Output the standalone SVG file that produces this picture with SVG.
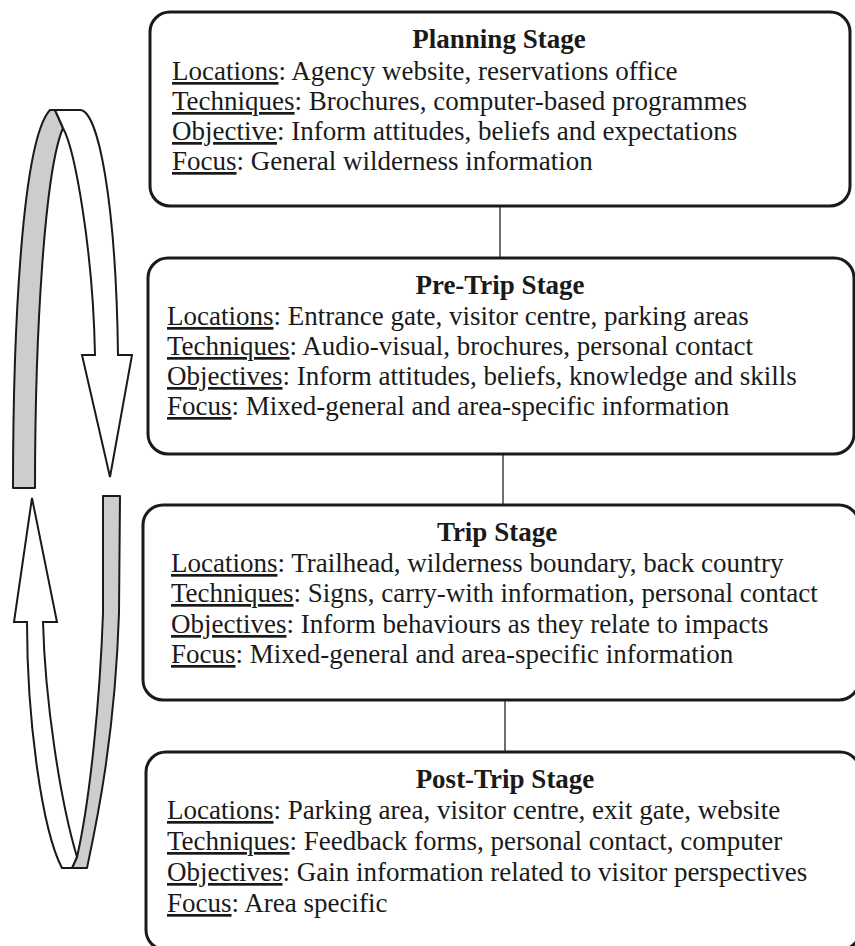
<svg xmlns="http://www.w3.org/2000/svg" width="855" height="946" viewBox="0 0 855 946">
<style>
.box{fill:#fff;stroke:#1a1a1a;stroke-width:3}
.t{font-family:"Liberation Serif","Times New Roman",serif;font-size:27px;fill:#1a1a1a}
.h{font-weight:bold;text-anchor:middle}
.u{text-decoration:underline}
.conn{stroke:#222;stroke-width:1.3;fill:none}
.band{fill:#cdcdcd;stroke:#1a1a1a;stroke-width:2;stroke-linejoin:round}
.arw{fill:#fff;stroke:#1a1a1a;stroke-width:2;stroke-linejoin:miter}
</style>
<rect width="855" height="946" fill="#fff"/>
<g id="cycle-arrows">
<path class="band" d="M13,488 C13,330 22,140 50,110 L55,110 L63,128 C45,170 35,330 35,488 Z"/>
<path class="arw" d="M55,110 L80,110 C98,110 116,200 118,355 L132,355 L110,477 L82,355 L95,355 C93,250 75,150 63,128 Z"/>
<path class="band" d="M103,496 L120,496 L119,613 C115,740 95,830 87,868 L72,868 L77,857 C90,800 100,700 103,613 Z"/>
<path class="arw" d="M62,868 L72,868 L77,857 C60,800 45,700 43,622 L57,622 L32,498 L14,622 L27,622 C27,720 42,830 62,868 Z"/>
</g>
<g id="connectors">
<line class="conn" x1="500" y1="206" x2="500" y2="258"/>
<line class="conn" x1="503" y1="454" x2="503" y2="505"/>
<line class="conn" x1="505" y1="700" x2="505" y2="752"/>
</g>
<g id="planning">
<rect class="box" x="150" y="12" width="700" height="194" rx="20"/>
<text class="t h" x="499" y="48">Planning Stage</text>
<text class="t" x="172" y="80"><tspan class="u">Locations</tspan>: Agency website, reservations office</text>
<text class="t" x="172" y="110"><tspan class="u">Techniques</tspan>: Brochures, computer-based programmes</text>
<text class="t" x="172" y="140"><tspan class="u">Objective</tspan>: Inform attitudes, beliefs and expectations</text>
<text class="t" x="172" y="170"><tspan class="u">Focus</tspan>: General wilderness information</text>
</g>
<g id="pretrip">
<rect class="box" x="148" y="258" width="706" height="196" rx="20"/>
<text class="t h" x="500" y="294">Pre-Trip Stage</text>
<text class="t" x="167" y="325"><tspan class="u">Locations</tspan>: Entrance gate, visitor centre, parking areas</text>
<text class="t" x="167" y="355"><tspan class="u">Techniques</tspan>: Audio-visual, brochures, personal contact</text>
<text class="t" x="167" y="385"><tspan class="u">Objectives</tspan>: Inform attitudes, beliefs, knowledge and skills</text>
<text class="t" x="167" y="415"><tspan class="u">Focus</tspan>: Mixed-general and area-specific information</text>
</g>
<g id="trip">
<rect class="box" x="143" y="505" width="716" height="195" rx="20"/>
<text class="t h" x="497" y="541">Trip Stage</text>
<text class="t" x="171" y="572"><tspan class="u">Locations</tspan>: Trailhead, wilderness boundary, back country</text>
<text class="t" x="171" y="602"><tspan class="u">Techniques</tspan>: Signs, carry-with information, personal contact</text>
<text class="t" x="171" y="633"><tspan class="u">Objectives</tspan>: Inform behaviours as they relate to impacts</text>
<text class="t" x="171" y="663"><tspan class="u">Focus</tspan>: Mixed-general and area-specific information</text>
</g>
<g id="posttrip">
<rect class="box" x="146" y="752" width="714" height="198" rx="20"/>
<text class="t h" x="505" y="788">Post-Trip Stage</text>
<text class="t" x="167" y="819"><tspan class="u">Locations</tspan>: Parking area, visitor centre, exit gate, website</text>
<text class="t" x="167" y="850"><tspan class="u">Techniques</tspan>: Feedback forms, personal contact, computer</text>
<text class="t" x="167" y="881"><tspan class="u">Objectives</tspan>: Gain information related to visitor perspectives</text>
<text class="t" x="167" y="912"><tspan class="u">Focus</tspan>: Area specific</text>
</g>
</svg>
